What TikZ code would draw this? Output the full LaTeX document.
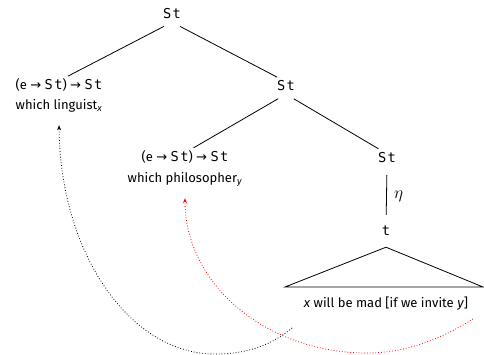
\documentclass[tikz,border=0pt]{standalone}
\usepackage{fontspec}
\setmainfont{Fira Sans}
\newfontfamily\catfont[LetterSpace=10,Scale=1.05]{DejaVu Sans Mono}
\newfontfamily\arrfont{DejaVu Sans}
\usetikzlibrary{arrows.meta}

\newcommand*{\St}{{\catfont St}}
\newcommand*{\Tp}{{\catfont t}}
\newcommand*{\arr}{{\arrfont →}}

\begin{document}
\begin{tikzpicture}
[
	x=1pt, y=-1pt,
	cat/.style={anchor=base, inner sep=0pt, text height=9pt, text depth=3pt, font=\fontsize{13}{15}\selectfont},
	branch/.style={line width=0.8pt, shorten <=9pt, shorten >=10pt},
	trace/.style={dotted, line width=0.8pt, -{Stealth[length=5pt,width=4pt]}, shorten >=12pt}
]
	\useasboundingbox (0,0) rectangle (484,355);

	% categories
	\node[cat] (root) at (172,19) {\St};
	\node[cat] (lt) at (59,90) {(e \arr\ \St) \arr\ \St};
	\node[cat] (ltw) at (59,110) {which linguist\textsubscript{\textit{x}}};
	\node[cat] (rt) at (286,91) {\St};
	\node[cat] (mid) at (185,162) {(e \arr\ \St) \arr\ \St};
	\node[cat] (midw) at (185,183) {which philosopher\textsubscript{\textit{y}}};
	\node[cat] (low) at (387,163) {\St};
	\node[cat] (tt) at (386,236) {\Tp};
	\node[cat] (clause) at (386,307) {\textit{x} will be mad [if we invite \textit{y}]};

	% branches
	\draw[branch] (root.south) -- (lt.north);
	\draw[branch] (root.south) -- (rt.north);
	\draw[branch] (rt.south) -- (mid.north);
	\draw[branch] (rt.south) -- (low.north);
	\draw[branch, shorten >=12pt] (low.south) -- node[right=4pt, font=\fontsize{16}{18}\selectfont] (eta) {$\eta$} (tt.north);

	% triangle
	\coordinate (apex) at ([yshift=-8pt]tt.south);
	\coordinate (bl) at (285,287);
	\coordinate (br) at (483,287);
	\draw[line width=0.8pt] (apex) -- (bl) -- (br) -- cycle;

	% traces
	\coordinate (xtrace) at (292,328);
	\coordinate (ytrace) at (473,319);
	\draw[trace] (xtrace) .. controls (268,348) and (242,354) .. (215,354)
	  .. controls (129,354) and (60,252) .. (ltw.south);
	\draw[trace, red] (ytrace) .. controls (441,339) and (406,353) .. (367,353)
	  .. controls (266,353) and (185,284) .. (midw.south);

\end{tikzpicture}
\end{document}
